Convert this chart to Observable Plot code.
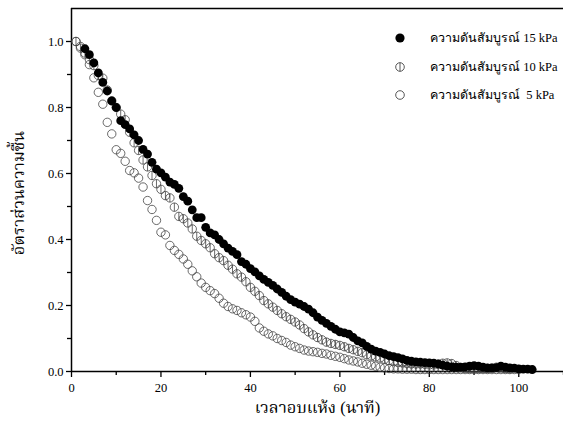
<!DOCTYPE html>
<html>
<head>
<meta charset="utf-8">
<script src="https://cdn.jsdelivr.net/npm/d3@7"></script>
<script src="https://cdn.jsdelivr.net/npm/@observablehq/plot@0.6"></script>
<style>
  html, body { margin: 0; padding: 0; background: #fff; }
  #wrap { position: relative; width: 563px; height: 427px; overflow: hidden; }
  #legend { position: absolute; left: 394px; top: 24px; font-family: "Liberation Serif", serif; font-size: 12.5px; color: #000; }
  #legend .row { display: flex; align-items: center; height: 28.5px; }
  #legend svg { margin-right: 24px; }
</style>
</head>
<body>
<div id="wrap"></div>
<script>
// ---- data ----
const xLabel = "เวลาอบแห้ง (นาที)";
const yLabel = "อัตราส่วนความชื้น";
const seriesNames = ["ความดันสัมบูรณ์ 15 kPa", "ความดันสัมบูรณ์ 10 kPa", "ความดันสัมบูรณ์  5 kPa"];
const xTicks = [0, 20, 40, 60, 80, 100];
const yTicks = [0.0, 0.2, 0.4, 0.6, 0.8, 1.0];

// 15 kPa: time (min) starts at 3
const start15 = 3;
const mr15 = [0.978,0.96,0.935,0.905,0.876,0.85,0.82,0.80,0.76,0.748,0.735,0.717,0.70,0.673,0.659,0.634,0.613,0.602,0.589,0.574,
  0.567,0.555,0.53,0.516,0.49,0.466,0.466,0.437,0.42,0.414,0.40,0.387,0.374,0.364,0.354,0.333,0.325,0.312,0.302,0.29,
  0.279,0.27,0.261,0.25,0.24,0.228,0.218,0.21,0.204,0.197,0.189,0.178,0.165,0.155,0.146,0.137,0.128,0.12,0.117,0.113,
  0.103,0.093,0.087,0.076,0.068,0.062,0.058,0.053,0.048,0.045,0.042,0.038,0.034,0.031,0.029,0.028,0.027,0.026,0.025,0.023,
  0.019,0.016,0.014,0.013,0.013,0.014,0.016,0.018,0.016,0.013,0.011,0.011,0.012,0.016,0.013,0.011,0.010,0.008,0.007,0.007,0.006];

// 10 kPa: time starts at 1
const start10 = 1;
const mr10 = [1.0,0.98,0.965,0.945,0.927,0.897,0.889,0.853,0.82,0.80,0.78,0.763,0.725,0.693,0.67,0.641,0.62,0.594,0.569,0.552,
  0.533,0.526,0.498,0.47,0.463,0.45,0.432,0.41,0.397,0.387,0.375,0.357,0.345,0.336,0.322,0.31,0.296,0.286,0.272,0.255,
  0.243,0.23,0.215,0.205,0.195,0.185,0.175,0.166,0.158,0.15,0.141,0.13,0.12,0.111,0.103,0.096,0.089,0.085,0.082,0.079,
  0.075,0.07,0.066,0.061,0.057,0.051,0.047,0.044,0.041,0.037,0.033,0.03,0.028,0.026,0.024,0.023,0.023,0.023,0.022,0.02,
  0.02,0.022,0.025,0.026,0.024,0.018,0.012,0.01,0.009,0.009,0.009,0.009,0.009,0.01,0.013,0.011,0.009,0.008];

// 5 kPa: time starts at 1
const start5 = 1;
const mr5 = [1.0,0.985,0.96,0.93,0.89,0.846,0.81,0.755,0.72,0.672,0.661,0.637,0.609,0.602,0.586,0.559,0.518,0.491,0.458,0.422,
  0.414,0.382,0.367,0.355,0.341,0.325,0.305,0.287,0.268,0.255,0.245,0.236,0.222,0.207,0.197,0.19,0.185,0.178,0.172,0.165,
  0.152,0.132,0.122,0.114,0.108,0.10,0.094,0.088,0.08,0.075,0.07,0.065,0.062,0.06,0.058,0.055,0.053,0.049,0.046,0.043,
  0.039,0.035,0.032,0.029,0.025,0.022,0.019,0.016,0.013,0.011,0.009,0.008,0.008,0.007,0.007,0.007,0.006,0.006,0.006,0.006,
  0.006,0.006,0.006,0.006,0.006,0.006,0.006,0.006,0.006,0.006,0.006,0.006,0.006,0.006,0.006,0.006,0.006,0.006,0.006,0.006];

// ---- build rows ----
const toRows = (arr, start) => arr.map((v, i) => ({t: start + i, mr: v}));
const d15 = toRows(mr15, start15);
const d10 = toRows(mr10, start10);
const d5 = toRows(mr5, start5);

// circle with a vertical bar (10 kPa symbol)
const barCircle = {
  draw(context, size) {
    const r = Math.sqrt(size / Math.PI);
    context.moveTo(r, 0);
    context.arc(0, 0, r, 0, 2 * Math.PI);
    context.moveTo(0, -r);
    context.lineTo(0, r);
  }
};

const font = "'Liberation Serif', 'Noto Serif Thai', 'Noto Sans Thai', serif";
const minorY = d3.range(0.1, 1.1, 0.2);
const minorX = d3.range(10, 111, 20);

const plot = Plot.plot({
  width: 563,
  height: 427,
  marginTop: 8,
  marginLeft: 71,
  marginRight: 0,
  marginBottom: 56,
  style: {fontFamily: font, fontSize: "12.5px", color: "#000", background: "#fff"},
  x: {domain: [0, 110]},
  y: {domain: [0, 1.1]},
  marks: [
    Plot.axisY({ticks: yTicks, tickFormat: d3.format(".1f"), tickSize: 5, tickPadding: 3, label: null, strokeWidth: 1.3, fontSize: 12.5}),
    Plot.axisY({ticks: minorY, tickSize: 4, text: null, label: null, strokeWidth: 1.3}),
    Plot.axisX({ticks: xTicks, tickFormat: d3.format("d"), tickSize: 6, tickPadding: 6, label: null, strokeWidth: 1.3, fontSize: 12.5}),
    Plot.axisX({ticks: minorX, tickSize: 4, text: null, label: null, strokeWidth: 1.3}),
    Plot.ruleX([0], {strokeWidth: 1.5}),
    Plot.ruleY([0], {strokeWidth: 1.5}),
    Plot.ruleY([1.1], {strokeWidth: 1.3}),
    Plot.dot(d5, {x: "t", y: "mr", r: 4.2, stroke: "#444", strokeWidth: 0.8, fill: "none"}),
    Plot.dot(d10, {x: "t", y: "mr", r: 4.2, symbol: barCircle, stroke: "#444", strokeWidth: 0.8, fill: "none"}),
    Plot.dot(d15, {x: "t", y: "mr", r: 4.4, fill: "#000", stroke: "none"}),
    Plot.text([xLabel], {frameAnchor: "bottom", dy: 41, fontSize: 16.5, fill: "#000"}),
    Plot.text([yLabel], {frameAnchor: "left", textAnchor: "middle", dx: -53, dy: 3, rotate: -90, fontSize: 16.5, fill: "#000"})
  ]
});
document.getElementById("wrap").appendChild(plot);

// legend (HTML overlay)
const legend = document.createElement("div");
legend.id = "legend";
const symbols = [
  '<circle cx="6" cy="6" r="4.6" fill="#000"/>',
  '<circle cx="6" cy="6" r="4.3" fill="none" stroke="#444" stroke-width="0.9"/><line x1="6" y1="1.7" x2="6" y2="10.3" stroke="#444" stroke-width="0.9"/>',
  '<circle cx="6" cy="6" r="4.3" fill="none" stroke="#444" stroke-width="0.9"/>'
];
seriesNames.forEach((name, i) => {
  const row = document.createElement("div");
  row.className = "row";
  row.innerHTML = `<svg width="12" height="12">${symbols[i]}</svg><span style="white-space:pre">${name}</span>`;
  legend.appendChild(row);
});
document.getElementById("wrap").appendChild(legend);
</script>
</body>
</html>
